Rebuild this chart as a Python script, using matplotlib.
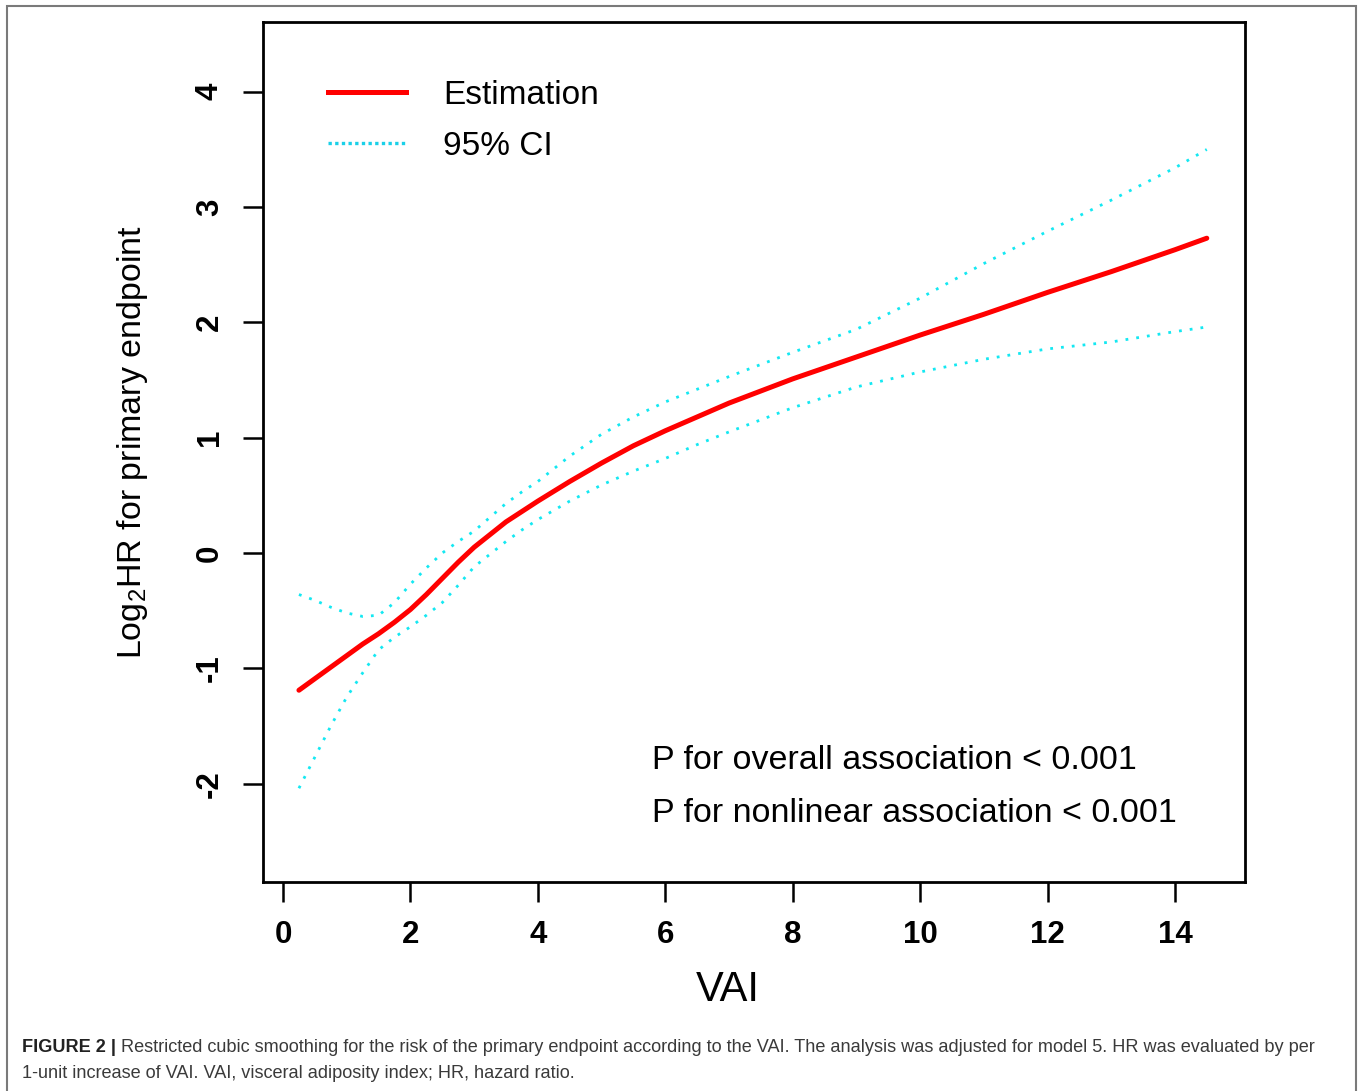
import matplotlib
matplotlib.use("Agg")
import matplotlib.pyplot as plt
from matplotlib.lines import Line2D
from matplotlib.patches import Rectangle

plt.rcParams['font.family'] = ['Liberation Sans', 'DejaVu Sans']
plt.rcParams['axes.unicode_minus'] = False
plt.rcParams['mathtext.fontset'] = 'custom'
plt.rcParams['mathtext.rm'] = 'Liberation Sans'
plt.rcParams['mathtext.it'] = 'Liberation Sans:italic'

# ---- data ----
vai = [0.25, 0.5, 0.75, 1.0, 1.25, 1.5, 1.75, 2.0, 2.25, 2.5, 2.75, 3.0, 3.25, 3.5,
       3.75, 4.0, 4.5, 5.0, 5.5, 6.0, 6.5, 7.0, 8.0, 9.0, 10.0, 11.0, 12.0, 13.0,
       14.0, 14.5]
estimate = [-1.19, -1.09, -0.99, -0.89, -0.79, -0.70, -0.60, -0.49, -0.36, -0.22,
            -0.08, 0.05, 0.16, 0.27, 0.36, 0.45, 0.62, 0.78, 0.93, 1.06, 1.18,
            1.30, 1.51, 1.70, 1.89, 2.07, 2.26, 2.44, 2.63, 2.73]
upper_ci = [-0.36, -0.41, -0.47, -0.52, -0.55, -0.54, -0.43, -0.27, -0.13, 0.00,
            0.10, 0.19, 0.31, 0.43, 0.53, 0.62, 0.84, 1.03, 1.18, 1.31, 1.42,
            1.53, 1.74, 1.94, 2.21, 2.51, 2.79, 3.06, 3.34, 3.50]
lower_ci = [-2.04, -1.77, -1.50, -1.25, -1.04, -0.84, -0.73, -0.64, -0.54, -0.43,
            -0.28, -0.12, -0.01, 0.10, 0.20, 0.29, 0.45, 0.59, 0.71, 0.82, 0.94,
            1.05, 1.26, 1.44, 1.57, 1.68, 1.77, 1.83, 1.92, 1.96]
x_ticks = [0, 2, 4, 6, 8, 10, 12, 14]
y_ticks = [-2, -1, 0, 1, 2, 3, 4]
p_texts = ["P for overall association < 0.001",
           "P for nonlinear association < 0.001"]
legend_labels = ["Estimation", "95% CI"]
caption_bold = "FIGURE 2 |"
caption_line1 = (" Restricted cubic smoothing for the risk of the primary endpoint according to the VAI. "
                 "The analysis was adjusted for model 5. HR was evaluated by per")
caption_line2 = "1-unit increase of VAI. VAI, visceral adiposity index; HR, hazard ratio."

W, H = 1360, 1091
fig = plt.figure(figsize=(W / 100, H / 100), dpi=100)
fig.patch.set_facecolor('white')

# outer border of the figure panel
fig.patches.append(Rectangle((7 / W, -0.01), (1356 - 7) / W, 1 - 6 / H + 0.01,
                             transform=fig.transFigure, fill=False,
                             edgecolor='#7a7a7a', linewidth=1.5))

ax = fig.add_axes([263 / W, 1 - 882 / H, (1245 - 263) / W, (882 - 22) / H])
red = '#FF0000'
cyan = '#14E8F2'
ax.plot(vai, estimate, color=red, linewidth=3.6, solid_capstyle='round')
ax.plot(vai, upper_ci, color=cyan, linewidth=2.0, linestyle=(0, (1, 2.9)))
ax.plot(vai, lower_ci, color=cyan, linewidth=2.0, linestyle=(0, (1, 2.9)))

ax.set_xlim(-0.314, 15.10)
ax.set_ylim(-2.853, 4.605)
ax.set_xticks(x_ticks)
ax.set_yticks(y_ticks)
ax.set_xticklabels([str(v) for v in x_ticks])
ax.set_yticklabels([str(v) for v in y_ticks])
for sp in ax.spines.values():
    sp.set_linewidth(2.0)
    sp.set_color('black')
ax.tick_params(axis='both', length=14.5, width=1.8, labelsize=22.5, pad=13)
for lab in ax.get_yticklabels() + ax.get_xticklabels():
    lab.set_fontweight('bold')
for lab in ax.get_yticklabels():
    lab.set_rotation(90)
    lab.set_va('center')

ax.set_xlabel('VAI', fontsize=30)
ax.xaxis.label.set_va('center')
ax.xaxis.set_label_coords((728 - 263) / 982, (882 - 990) / 860)
ax.set_ylabel(r'Log$_2$HR for primary endpoint', fontsize=24.5)
ax.yaxis.label.set_va('center')
ax.yaxis.set_label_coords((132 - 263) / 982, (882 - 442) / 860)

# p-value annotations
ax.text(5.79, -1.80, p_texts[0], fontsize=24.5, va='center', ha='left')
ax.text(5.79, -2.26, p_texts[1], fontsize=24.5, va='center', ha='left')

# legend
handles = [Line2D([], [], color=red, linewidth=3.6),
           Line2D([], [], color='#1AD0E8', linewidth=2.4, linestyle=(0, (1, 1.0)))]
ax.legend(handles, legend_labels, loc='upper left',
          bbox_to_anchor=(328 / W, 1 - 80 / H), bbox_transform=fig.transFigure,
          frameon=False, fontsize=24, handlelength=2.35, handletextpad=1.1,
          labelspacing=0.6, borderpad=0, borderaxespad=0)

# caption
cap_family, cap_size = ['Liberation Sans', 'DejaVu Sans'], 13.1
cap_color = '#3a3a3a'
fig.canvas.draw()
r = fig.canvas.get_renderer()
t_b = fig.text(22 / W, 1 - 1048 / H, caption_bold, fontsize=cap_size, fontweight='bold',
               family=cap_family, color='#222222', va='center', ha='left')
bb = t_b.get_window_extent(renderer=r)
fig.text(bb.x1 / W, 1 - 1048 / H, caption_line1, fontsize=cap_size, color=cap_color,
         family=cap_family, va='center', ha='left')
fig.text(22 / W, 1 - 1073 / H, caption_line2, fontsize=cap_size, color=cap_color,
         family=cap_family, va='center', ha='left')

fig.savefig('out.png', dpi=100, facecolor='white')
